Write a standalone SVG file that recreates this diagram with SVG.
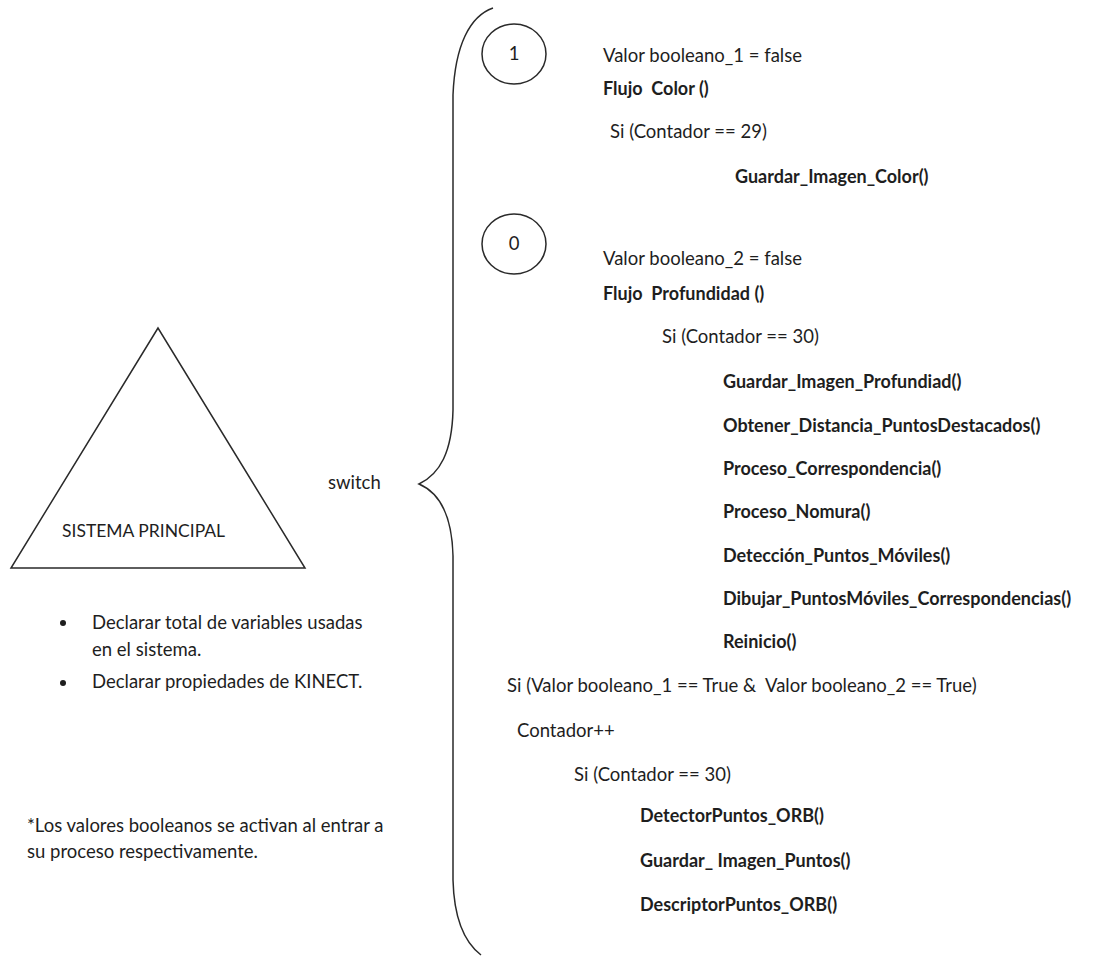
<svg xmlns="http://www.w3.org/2000/svg" width="1117" height="957" viewBox="0 0 1117 957">
<style>
  .t { font-family: Lato, "Liberation Sans", sans-serif; font-size: 18.5px; fill: #1e1e1e; }
  .b { font-weight: bold; font-size: 18px; }
  .up { font-size: 17.5px; }
  .ln { fill: none; stroke: #2a2a2a; stroke-width: 1.5; }
</style>
<rect width="1117" height="957" fill="#ffffff"/>

<g id="sistema-principal">
  <polygon class="ln" points="158,328 11,568 305,568"/>
  <text class="t up" x="62" y="537">SISTEMA PRINCIPAL</text>
</g>

<g id="notas">
  <circle cx="63" cy="623" r="3" fill="#1e1e1e"/>
  <text class="t" x="92" y="629">Declarar total de variables usadas</text>
  <text class="t" x="92" y="656">en el sistema.</text>
  <circle cx="63" cy="683" r="3" fill="#1e1e1e"/>
  <text class="t" x="92" y="688">Declarar propiedades de KINECT.</text>
  <text class="t" x="27" y="832">*Los valores booleanos se activan al entrar a</text>
  <text class="t" x="27" y="858">su proceso respectivamente.</text>
</g>

<g id="connectors">
  <path class="ln" d="M 493 8 C 470 16, 455 45, 453 95 L 453 410 C 452 452, 440 474, 419 484 C 440 493, 452 515, 453 556 L 453 880 C 454 918, 464 942, 481 955"/>
  <text class="t" x="328" y="489">switch</text>
</g>

<g id="caso-1">
  <ellipse class="ln" cx="514" cy="54" rx="32" ry="30"/>
  <text class="t" x="514" y="60" text-anchor="middle">1</text>
  <text class="t" x="603" y="62">Valor booleano_1 = false</text>
  <text class="t b" x="603" y="95" xml:space="preserve">Flujo  Color ()</text>
  <text class="t" x="610" y="138">Si (Contador == 29)</text>
  <text class="t b" x="735" y="183">Guardar_Imagen_Color()</text>
</g>

<g id="caso-0">
  <ellipse class="ln" cx="514" cy="244" rx="32" ry="30"/>
  <text class="t" x="514" y="250" text-anchor="middle">0</text>
  <text class="t" x="603" y="265">Valor booleano_2 = false</text>
  <text class="t b" x="603" y="300" xml:space="preserve">Flujo  Profundidad ()</text>
  <text class="t" x="662" y="343">Si (Contador == 30)</text>
  <text class="t b" x="723" y="388">Guardar_Imagen_Profundiad()</text>
  <text class="t b" x="723" y="432">Obtener_Distancia_PuntosDestacados()</text>
  <text class="t b" x="723" y="475">Proceso_Correspondencia()</text>
  <text class="t b" x="723" y="518">Proceso_Nomura()</text>
  <text class="t b" x="723" y="562">Detección_Puntos_Móviles()</text>
  <text class="t b" x="723" y="605">Dibujar_PuntosMóviles_Correspondencias()</text>
  <text class="t b" x="723" y="648">Reinicio()</text>
</g>

<g id="condicion-final">
  <text class="t" x="507" y="692" xml:space="preserve">Si (Valor booleano_1 == True &amp;  Valor booleano_2 == True)</text>
  <text class="t" x="517" y="737">Contador++</text>
  <text class="t" x="574" y="781">Si (Contador == 30)</text>
  <text class="t b" x="640" y="822">DetectorPuntos_ORB()</text>
  <text class="t b" x="640" y="867">Guardar_ Imagen_Puntos()</text>
  <text class="t b" x="640" y="911">DescriptorPuntos_ORB()</text>
</g>
</svg>
